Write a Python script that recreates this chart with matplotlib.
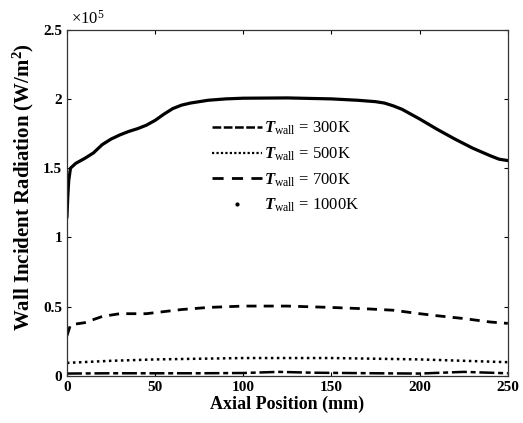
import numpy as np
import matplotlib
matplotlib.use('Agg')
import matplotlib.pyplot as plt
from matplotlib.lines import Line2D

plt.rcParams['font.family'] = ['Liberation Serif', 'DejaVu Serif']
plt.rcParams['mathtext.fontset'] = 'custom'
plt.rcParams['mathtext.rm'] = 'Liberation Serif'
plt.rcParams['mathtext.it'] = 'Liberation Serif:italic:bold'
plt.rcParams['mathtext.bf'] = 'Liberation Serif:bold'

# Datos (W/m^2)
x_1000 = [0, 0.5, 1, 2, 5, 10, 15, 20, 25, 30, 35, 40, 45, 50, 55, 60, 65, 70, 80,
          90, 100, 125, 150, 165, 175, 180, 185, 190, 200, 210, 220, 230, 240, 245, 250]
T_1000 = [1.15e5, 1.30e5, 1.41e5, 1.50e5, 1.535e5, 1.57e5, 1.61e5, 1.67e5, 1.71e5,
          1.74e5, 1.765e5, 1.785e5, 1.81e5, 1.845e5, 1.89e5, 1.93e5, 1.955e5, 1.97e5,
          1.99e5, 2.0e5, 2.005e5, 2.007e5, 2.0e5, 1.99e5, 1.98e5, 1.97e5, 1.95e5,
          1.925e5, 1.855e5, 1.78e5, 1.71e5, 1.645e5, 1.59e5, 1.565e5, 1.555e5]

x_700 = [0, 2, 10, 20, 30, 45, 55, 65, 80, 100, 125, 150, 170, 185, 200, 210, 225, 240, 250]
T_700 = [0.29e5, 0.37e5, 0.385e5, 0.43e5, 0.45e5, 0.45e5, 0.465e5, 0.48e5, 0.495e5,
         0.505e5, 0.505e5, 0.495e5, 0.485e5, 0.475e5, 0.45e5, 0.435e5, 0.415e5,
         0.39e5, 0.38e5]

x_500 = [0, 25, 50, 75, 100, 125, 150, 175, 200, 225, 250]
T_500 = [0.95e4, 1.1e4, 1.2e4, 1.25e4, 1.3e4, 1.3e4, 1.3e4, 1.25e4, 1.2e4, 1.1e4, 1.0e4]

x_300 = [0, 25, 50, 75, 100, 120, 140, 175, 200, 225, 250]
T_300 = [1.8e3, 2.0e3, 2.0e3, 2.0e3, 2.2e3, 3.0e3, 2.4e3, 2.0e3, 1.8e3, 3.0e3, 2.0e3]

etiquetas = [r'$T_{\mathrm{wall}}$ = 300K', r'$T_{\mathrm{wall}}$ = 500K',
             r'$T_{\mathrm{wall}}$ = 700K', r'$T_{\mathrm{wall}}$ = 1000K']

fig = plt.figure(figsize=(5.23, 4.23), dpi=100)
ax = fig.add_axes([0.128, 0.111, 0.843, 0.819])

ax.plot(x_300, T_300, color='k', lw=1.8, linestyle=(0, (6, 1.5, 2, 1.5)))
ax.plot(x_500, T_500, color='k', lw=1.8, linestyle=(0, (1, 1.4)))
ax.plot(x_700, T_700, color='k', lw=2.0, linestyle=(0, (3.6, 2.6)))
ax.plot(x_1000, T_1000, color='k', lw=2.3)

handles = [Line2D([], [], color='k', lw=1.8, linestyle=(0, (3.5, 1))),
           Line2D([], [], color='k', lw=1.6, linestyle=(0, (1, 1))),
           Line2D([], [], color='k', lw=2.0, linestyle=(0, (4, 3))),
           Line2D([], [], color='k', ls='none', marker='.', ms=4)]
ax.legend(handles, etiquetas, loc='upper left', bbox_to_anchor=(0.31, 0.764),
          frameon=False, fontsize=12, handlelength=3.0, handletextpad=0.15,
          labelspacing=0.5, borderpad=0)

ax.set_xlim(0, 250)
ax.set_ylim(0, 2.5e5)
ax.set_xticks([0, 50, 100, 150, 200, 250])
ax.set_xticklabels(['0', '50', '100', '150', '200', '250'], fontweight='bold')
ax.set_yticks([0, 0.5e5, 1e5, 1.5e5, 2e5, 2.5e5])
ax.set_yticklabels(['0', '0.5', '1', '1.5', '2', '2.5'], fontweight='bold')
ax.tick_params(direction='in', top=True, right=True, labelsize=11, length=3, width=0.8)
for s in ax.spines.values():
    s.set_linewidth(0.9)
    s.set_color('#333333')

ax.text(0.01, 1.005, r'$\times$10$^{5}$', transform=ax.transAxes, fontsize=12,
        ha='left', va='bottom')
ax.set_xlabel('Axial Position (mm)', fontsize=13, fontweight='bold', labelpad=1)
ax.set_ylabel(r'Wall Incident Radiation (W/m$^{\mathbf{2}}$)', fontsize=15,
              fontweight='bold')
ax.yaxis.set_label_coords(-0.07, 0.545)

plt.savefig('out.png', dpi=100)
